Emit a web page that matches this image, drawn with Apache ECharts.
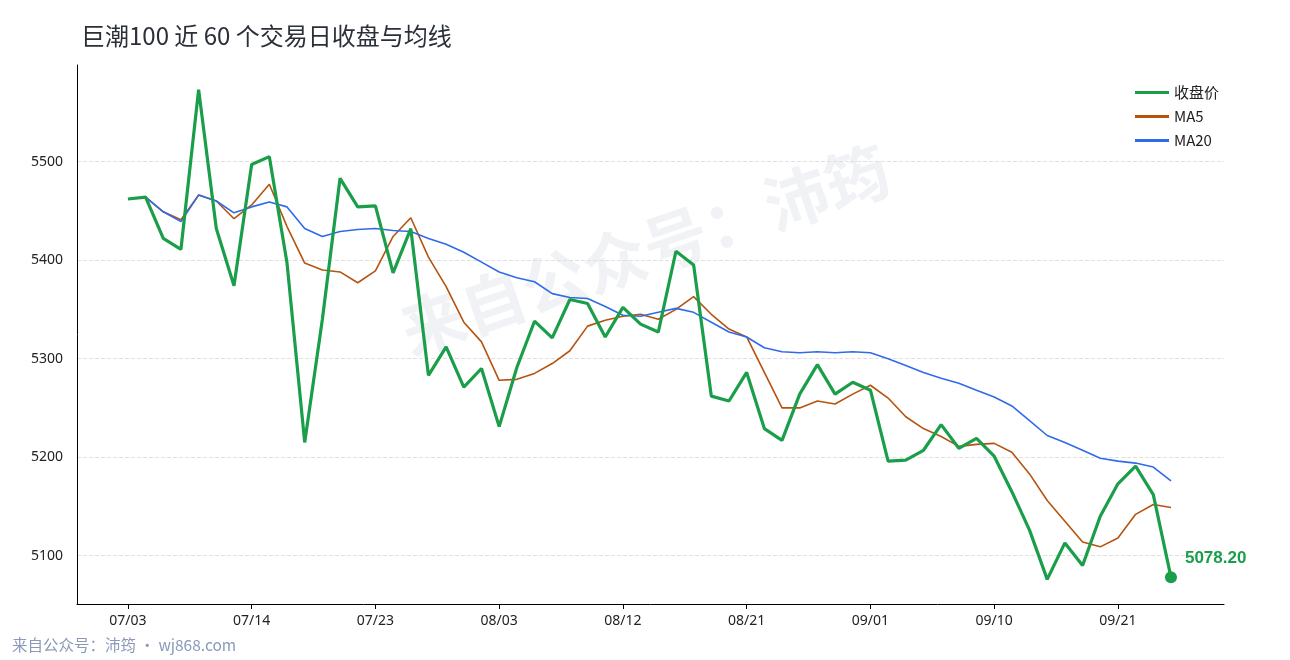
<!DOCTYPE html>
<html><head><meta charset="utf-8">
<script src="https://cdn.jsdelivr.net/npm/echarts@6/dist/echarts.min.js"></script>
<style>html,body{margin:0;padding:0;background:#fff}#c{width:1290px;height:660px}</style>
</head><body><div id="c"></div>
<script>
const dates = ['07/03','07/04','07/07','07/08','07/09','07/10','07/11','07/14','07/15','07/16','07/17','07/18','07/21','07/22','07/23','07/24','07/25','07/28','07/29','07/30','07/31','08/03','08/04','08/05','08/06','08/07','08/08','08/11','08/12','08/13','08/14','08/15','08/18','08/19','08/20','08/21','08/22','08/25','08/26','08/27','08/28','08/29','09/01','09/02','09/03','09/04','09/05','09/08','09/09','09/10','09/11','09/12','09/15','09/16','09/17','09/18','09/21','09/22','09/23','09/24'];
const close = [5462,5464,5422,5411,5573,5432,5374,5497,5505,5397,5215,5340,5483,5454,5455,5387,5432,5283,5312,5271,5290,5231,5291,5338,5321,5360,5356,5322,5352,5335,5327,5409,5395,5262,5257,5286,5229,5217,5264,5294,5264,5276,5268,5196,5197,5207,5233,5209,5219,5201,5165,5126,5076,5113,5090,5140,5173,5191,5162,5078.2];
const ma5 = [null,5464,5449,5441,5466,5460,5442,5456,5477,5434,5397,5390,5388,5377,5389,5424,5443,5403,5373,5337,5317,5278,5279,5285,5295,5308,5333,5339,5343,5345,5340,5350,5363,5345,5330,5322,5286,5250,5250,5257,5254,5264,5273,5260,5241,5229,5221,5211,5213,5214,5205,5183,5156,5135,5114,5109,5118,5142,5152,5149];
const ma20 = [null,5464,5449,5439,5466,5460,5448,5454,5459,5454,5432,5424,5429,5431,5432,5430,5429,5422,5416,5408,5398,5388,5382,5378,5366,5362,5361,5353,5344,5343,5347,5351,5347,5337,5327,5322,5311,5307,5306,5307,5306,5307,5306,5300,5293,5286,5280,5275,5268,5261,5252,5237,5222,5215,5207,5199,5196,5194,5190,5176];
const tickIdx = [0,7,14,21,28,35,42,49,56];
const yTicks = [5100,5200,5300,5400,5500];

const last = close.length - 1;
const closeData = close.map((v,i)=> i===last ? {value:[i,v],symbol:'circle',symbolSize:12,label:{show:true,position:'right',distance:8,offset:[0,-19],formatter:()=>v.toFixed(2),color:'#1a9e4a',fontWeight:'bold',fontSize:17}} : [i,v]);
const chart = echarts.init(document.getElementById('c'));
chart.setOption({
  animation:false,
  title:{text:'巨潮100 近 60 个交易日收盘与均线',left:76,top:19,textStyle:{fontSize:24,fontWeight:'normal',color:'#2b2f38',fontFamily:'Noto Sans CJK SC'}},
  legend:{orient:'vertical',right:66,top:80,itemGap:9,itemWidth:34,itemHeight:3,icon:'rect',textStyle:{fontSize:15,color:'#222',fontFamily:'Noto Sans CJK SC'},
    data:[{name:'收盘价',itemStyle:{color:'#1a9e4a'}},{name:'MA5',itemStyle:{color:'#b5530f'}},{name:'MA20',itemStyle:{color:'#2f6be8'}}]},
  graphic:[
    {type:'text',rotation:0.33,x:645,y:250,style:{text:'来自公众号：沛筠',fontSize:64,fontWeight:'bold',fill:'rgba(190,196,210,0.22)',align:'center',verticalAlign:'middle',fontFamily:'Noto Sans CJK SC'}},
    {type:'text',left:12,top:637,style:{text:'来自公众号：沛筠 · wj868.com',fontSize:15.5,fill:'#8a9ab8',fontFamily:'Noto Sans CJK SC'}}
  ],
  grid:{left:77,right:66,top:65,bottom:56},
  xAxis:{type:'value',min:-2.88,max:62.0,
    axisLine:{onZero:false,lineStyle:{color:'#000'}},splitLine:{show:false},
    axisTick:{show:true,customValues:tickIdx,length:5,lineStyle:{color:'#000'}},
    axisLabel:{customValues:tickIdx,formatter:v=>dates[v],fontSize:14,color:'#222',margin:10,fontFamily:'Noto Sans'}},
  yAxis:{type:'value',min:5051,max:5598,
    axisLine:{show:true,onZero:false,lineStyle:{color:'#000'}},axisTick:{show:false},
    axisLabel:{customValues:yTicks,formatter:v=>String(v),fontSize:14,color:'#222',margin:14,fontFamily:'Noto Sans'},
    splitLine:{show:true,showMinLine:false,showMaxLine:false,customValues:yTicks,lineStyle:{type:'dashed',color:'#e0e0e0'}}},
  series:[
    {name:'收盘价',type:'line',data:closeData,showSymbol:true,symbol:'none',lineStyle:{width:3.2,color:'#1a9e4a'},itemStyle:{color:'#1a9e4a'},z:5},
    {name:'MA5',type:'line',data:ma5.map((v,i)=>[i,v]),showSymbol:false,lineStyle:{width:1.6,color:'#b5530f'},itemStyle:{color:'#b5530f'}},
    {name:'MA20',type:'line',data:ma20.map((v,i)=>[i,v]),showSymbol:false,lineStyle:{width:1.6,color:'#2f6be8'},itemStyle:{color:'#2f6be8'}}
  ]
});
</script></body></html>
